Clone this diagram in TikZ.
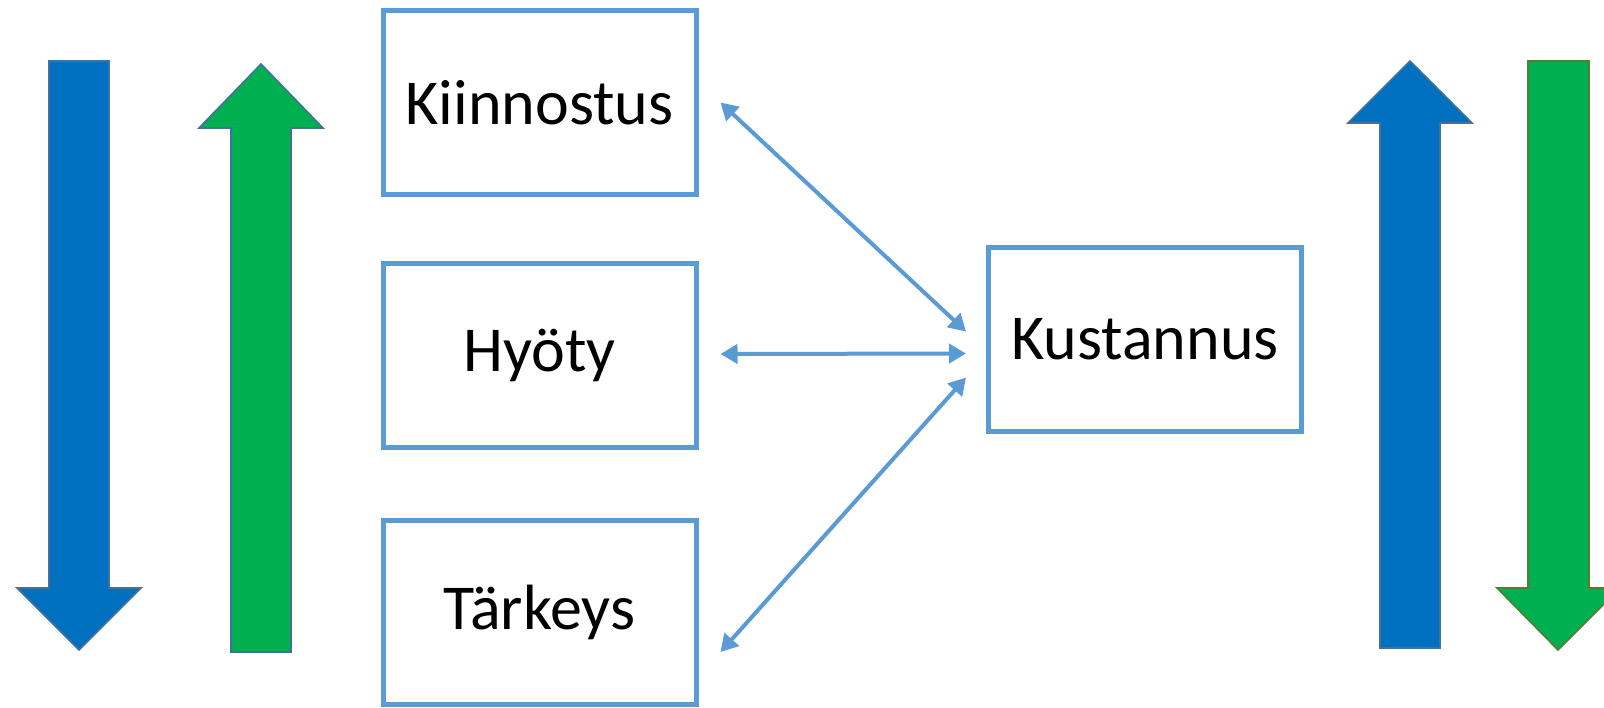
\documentclass[tikz,border=0pt]{standalone}
\usepackage{fontspec}
\setmainfont{Carlito}
\usetikzlibrary{arrows.meta,calc}

\definecolor{boxblue}{HTML}{5B9BD5}
\definecolor{fillblue}{HTML}{0070C0}
\definecolor{fillgreen}{HTML}{00B050}
\definecolor{edgeblue}{HTML}{41719C}
\definecolor{edgegreen}{HTML}{507E32}

\tikzset{
    factor/.style={draw=boxblue, line width=2.5pt, fill=white,
        minimum width=156.5pt, minimum height=92pt, inner sep=0pt,
        font=\fontsize{32}{38}\selectfont},
    conn/.style={draw=boxblue, line width=2pt,
        {Triangle[length=8.5pt,width=9.5pt]}-{Triangle[length=8.5pt,width=9.5pt]}},
    bluearrow/.style={fill=fillblue, draw=edgeblue, line width=0.8pt, line join=miter},
    greenarrow/.style={fill=fillgreen, draw=edgeblue, line width=0.8pt, line join=miter}
}

\begin{document}
\begin{tikzpicture}[x=0.5pt, y=-0.5pt]

\useasboundingbox (0,0) rectangle (1604,707);

% =========================
% LEFT: block arrows
% =========================
\draw[bluearrow] (49,61) -- (109,61) -- (109,588) -- (141,588)
    -- (79,650) -- (17,588) -- (49,588) -- cycle;
\draw[greenarrow] (231,652) -- (291,652) -- (291,128) -- (323,128)
    -- (261,64) -- (199,128) -- (231,128) -- cycle;

% =========================
% MIDDLE: factors
% =========================
\node[factor] (kiinnostus) at (539.5,102.5) {Kiinnostus};
\node[factor] (hyoty) at (539.5,355.5) {Hyöty};
\node[factor] (tarkeys) at (539.5,612.5) {Tärkeys};

\node[factor] (kustannus) at (1145,339.5) {Kustannus};

% Connectors
\draw[conn] ($(kiinnostus.east)+(22,0)$) -- ($(kustannus.west)+(-20,-8)$);
\draw[conn] ($(hyoty.east)+(22,-1.5)$) -- ($(kustannus.west)+(-20,14)$);
\draw[conn] ($(kustannus.west)+(-20,38)$) -- ($(tarkeys.east)+(22,39.5)$);

% =========================
% RIGHT: block arrows
% =========================
\draw[bluearrow] (1380,648) -- (1440,648) -- (1440,123) -- (1472,123)
    -- (1410,61) -- (1348,123) -- (1380,123) -- cycle;
\draw[greenarrow, draw=edgegreen] (1528,61) -- (1589,61) -- (1589,588)
    -- (1620,588) -- (1558,650) -- (1497,588) -- (1528,588) -- cycle;

\end{tikzpicture}
\end{document}
